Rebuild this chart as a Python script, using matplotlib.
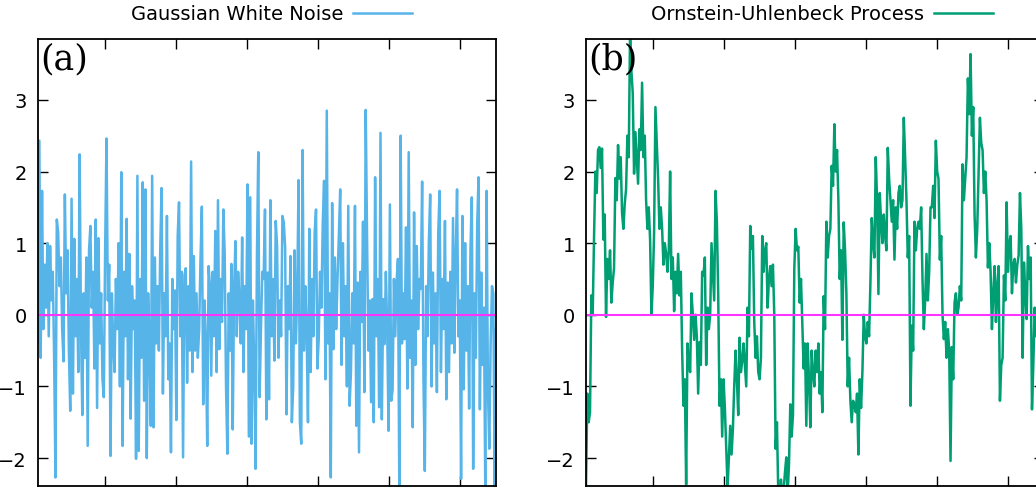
import numpy as np
import matplotlib
matplotlib.use("Agg")
import matplotlib.pyplot as plt

# samples of the two processes on a common time grid
white_noise = [
    -0.4, 2.43, -0.6, 1.73, -0.2, 0.7,
    0.1, 1.0, -0.3, 0.96, 0.2, 0.6,
    -0.57, -2.27, 1.33, 1.15, 0.4, 0.8,
    -0.2, -0.65, 1.68, 0.3, 0.9, -0.5,
    -1.34, 1.62, -1.1, 1.06, -0.3, 0.5,
    -0.8, 2.24, -0.2, -1.4, 0.3, -0.6,
    0.8, -1.83, 0.9, 1.24, 0.1, 0.6,
    -0.75, 1.33, -1.3, 1.07, -0.4, 0.3,
    -0.9, -1.15, 0.92, 2.46, 0.2, 0.7,
    -1.97, 0.3, -0.4, -0.8, 0.5, -0.2,
    1.0, -1.0, 1.99, -1.83, 0.6, -0.3,
    1.34, -0.9, 0.85, -1.45, 0.4, -0.2,
    0.2, -2.01, 1.94, -1.9, 0.5, -0.6,
    1.85, -1.2, 1.75, -2.0, 0.3, -0.4,
    -1.55, 1.94, -1.57, 0.8, -0.4, 0.4,
    -0.5, 0.9, 1.77, -1.1, 0.3, -0.3,
    1.38, -0.9, -0.4, -1.92, 0.5, -0.2,
    0.34, -1.47, 1.1, 1.57, -0.3, 0.6,
    -1.99, 0.55, 0.65, -0.95, 0.4, -0.5,
    2.14, -0.8, 0.82, -0.5, 0.3, -0.6,
    -0.2, 0.78, 1.51, -1.25, 0.2, -0.4,
    -1.83, 0.68, 0.4, -0.85, 0.6, -0.3,
    1.17, -0.8, 1.6, -0.48, 0.5, -0.1,
    1.47, 0.85, -1.0, -1.94, 0.3, -0.5,
    0.71, -1.6, 0.36, 1.03, -0.3, 0.6,
    0.2, -0.4, 1.08, -0.8, 0.4, -0.2,
    1.82, -1.7, 1.64, -1.8, 0.2, -0.7,
    -2.15, 0.8, 2.27, -1.15, -0.2, 0.6,
    0.5, 1.47,
    -1.46, 0.59, -1.18, 1.6, -0.3, 0.5,
    -0.64, 1.31, 0.96, -0.6, 0.2, -0.3,
    1.38, 1.29, 0.94, -1.39, 0.4, -0.2,
    0.82, -1.5, -1.01, 0.9, -0.4, 0.3,
    1.88, -1.5, -1.8, 2.3, -0.5, 0.4,
    -0.2, -1.5, 1.2, -0.8, 0.5, -0.3,
    1.15, 1.47, -0.75, -0.34, 0.6, 0.1,
    1.26, 1.87, -0.9, 2.85, -0.4, 0.3,
    -2.27, 1.56, -0.48, 0.8, -0.2, 0.5,
    1.1, 1.75, -0.7, 1.0, -0.3, 0.4,
    -1.0, 1.52, -1.27, -0.8, 0.3, -0.4,
    1.52, -1.55, 0.45, -1.92, 0.6, -0.1,
    1.3, -1.08, 2.86, 1.08, -0.5, 0.2,
    -1.22, 0.22, -1.5, 1.92, -0.3, 0.5,
    -1.29,
    2.54, -1.46, 0.22, -0.41, 0.6, -0.2,
    -1.62, 1.54, -1.2, -1.05, 0.5, -0.3,
    0.47, 0.78, -2.4, 2.5, -0.4, 0.3,
    -0.34, 1.22, -1.03, 2.27, -0.6, 0.2,
    -1.57, 1.43, -0.7, 0.96, -0.2, 0.5,
    0.36, 1.86, -0.9, -2.18, 0.4, -0.3,
    1.0, 1.68, -1.0, 0.59, -0.4, 0.3,
    -1.08, 1.15, 1.73, -0.8, 0.5, -0.2,
    1.31, -1.18, 0.45, -0.8, 0.6, -0.4,
    1.35, -0.53, 0.8, 1.75, -0.3, 0.2,
    -2.29, 1.38, -1.04, 1.0, -0.5, 0.4,
    -1.31, 0.92, 1.64, -2.15, 0.3, -0.6,
    1.26, 1.92, -1.32, 0.59, -0.7, 0.1,
    -2.39, 1.73, -1.04, -1.87, -0.4, 0.4,
    0.3, -2.39, -0.2,
]

ou_process = [
    -2.4, -1.1, -1.5, -1.36, 0.27, 0.0, 1.06, 2.0, 1.7,
    2.3, 2.34, 2.05, 2.32, 1.05, 1.4, -0.03, 0.78, 0.5,
    0.9, 0.17, 0.45, 0.65, 1.91, 1.6, 2.37, 1.9, 2.2,
    1.42, 1.2, 1.55, 1.75, 2.5, 2.2, 3.95, 3.4, 3.1,
    1.97, 2.55, 2.2, 1.83, 2.59, 2.3, 3.24, 2.2, 2.5,
    1.6, 1.2, 1.5, 1.05, 0.0, 0.4, 1.15, 2.9, 2.4,
    1.9, 1.2, 1.5, 1.2, 0.7, 1.0, 0.86, 0.6, 0.9,
    2.0, 0.5, 0.8, 0.05, 0.6, 0.3, 0.85, 0.27, 0.6,
    -0.5, -1.27, -0.9, -2.37, -0.4, -0.7, -0.8, 0.3, 0.0,
    -0.35, 0.0, -0.3, -1.1, -0.38, -0.7, 0.6, 0.55, 0.8,
    -0.7, 0.1, -0.2, 0.0, 1.0, 0.6, 0.2, 1.73, 1.3,
    0.3, -1.27, -0.9, -1.7, -0.9, -1.3, -1.87, -2.4, -2.0,
    -1.55, -1.95, -1.6, -1.0, -0.5, -0.9, -1.4, -0.32, -0.8,
    -0.65, -0.4, -0.7, -1.0, 0.1, -0.3, 1.24, 0.92, 1.1,
    -0.1, -0.6, -0.3, -0.8, -0.9, -0.6, 1.1, 0.6, 0.9,
    1.0, 0.1, 0.5, 0.68, 0.4, 0.7, 0.0, -1.87, -1.5,
    -2.5, -2.6, -2.3, -2.55, -2.45, -2.2, -1.99, -2.5, -2.1,
    -1.25, -1.7, -1.4, 0.64, 1.2, 0.9, 0.95, 0.17, 0.5,
    -0.15, -0.75, -0.4, -1.55, -0.4, -0.9, -1.57, -0.5, -0.8,
    -1.0, -0.5, -0.8, -0.4, -1.1, -0.8, -1.36, 0.26, -0.2,
    1.3, 0.8, 1.1, 1.2, 2.08, 1.8, 2.66, 2.0, 2.3,
    1.61, 0.5, 0.9, -0.35, 1.29, 0.9, 0.3, -1.0, -0.6,
    -1.2, -1.5, -1.2, -1.25, -1.36, -1.1, -1.95, -0.9, -1.3,
    -0.8, 0.0, -0.3, -0.4, -0.1, -0.3, 0.45, 1.35, 1.0,
    0.8, 2.2, 1.6, 0.29, 1.7, 1.3, 1.0, 1.4, 1.1,
    0.9, 2.33, 1.9, 1.6, 1.3, 1.6, 0.77, 1.5, 1.2,
    1.7, 1.8, 1.5, 1.6, 2.75, 2.2, 1.6, 0.8, 1.1,
    -1.27, -0.15, -0.5, 1.3, 0.9, 1.2, 1.3, 1.2, 1.5,
    0.5, -0.2, 0.2, 0.85, 0.2, 0.6, 1.5, 1.5, 1.8,
    1.35, 2.43, 2.0, 1.9, 0.77, 1.1, 0.0, -0.34, -0.1,
    -0.6, -0.2, -0.5, -2.04, -0.45, -0.9, 0.17, 0.3, 0.0,
    0.1, 0.4, 0.2, 2.1, 1.6, 1.9, 2.2, 3.3, 2.8,
    3.64, 2.5, 2.9, 1.4, 0.8, 1.2, 2.0, 2.75, 2.4,
    2.3, 1.7, 2.0, 1.6, 0.66, 1.0, 0.6, -0.2, 0.3,
    0.68, -0.1, 0.4, 0.68, -1.2, -0.7, -0.6, 0.55, 0.2,
    1.57, 0.6, 1.0, 1.1, 0.3, 0.7, 0.78, 0.45, 0.7,
    0.83, 1.7, 1.2, -0.6, 0.73, 0.3, -0.06, 0.96, 0.5,
    0.8, -1.32, -0.7, 0.1, -0.3, 0.2, 0.2, -0.5, -0.1,
    -0.2, 0.3,
]

t_start, t_end = 5.6, 650.7
panels = [
    (white_noise, "#56b4e9", "Gaussian White Noise", "(a)"),
    (ou_process, "#009e73", "Ornstein-Uhlenbeck Process", "(b)"),
]

fig = plt.figure(figsize=(10.36, 4.89), dpi=100)
W, H = 1036, 489
lefts = [38, 586]
legend_x = [271.5, 822]

for k, (series, color, name, tag) in enumerate(panels):
    ax = fig.add_axes([lefts[k] / W, 2 / H, 458 / W, 447 / H])
    t = np.linspace(t_start, t_end, len(series))
    ax.plot(t, series, color=color, lw=1.8, label=name)
    ax.axhline(0, color="#ff33ff", lw=1.5)
    ax.set_xlim(t_start, t_end)
    ax.set_ylim(-2.39, 3.85)
    ax.set_xticks(range(100, 700, 100))
    ax.set_yticks([-2, -1, 0, 1, 2, 3])
    ax.tick_params(direction="in", length=7, width=1.0, top=True, right=True,
                   labelbottom=False, labelsize=14, pad=8)
    for s in ax.spines.values():
        s.set_linewidth(1.3)
    ax.text(0.005, 0.995, tag, transform=ax.transAxes, ha="left", va="top",
            family="DejaVu Serif", fontsize=25)
    ax.legend(loc="center", bbox_to_anchor=(legend_x[k] / W, 1 - 15 / H),
              bbox_transform=fig.transFigure, frameon=False, fontsize=14,
              markerfirst=False, handlelength=3.0, handletextpad=0.5,
              borderpad=0, borderaxespad=0)

plt.savefig("out.png", dpi=100)
